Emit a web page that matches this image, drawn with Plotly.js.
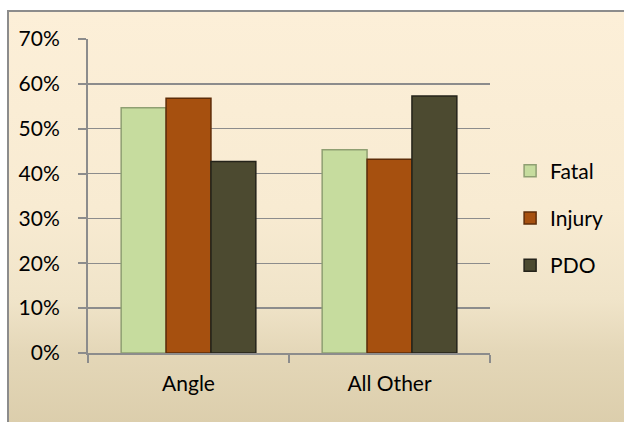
<!DOCTYPE html>
<html>
<head>
<meta charset="utf-8">
<script src="https://cdn.plot.ly/plotly-3.0.1.min.js"></script>
<style>
  html, body { margin: 0; padding: 0; background: #ffffff; }
  #wrap { position: relative; width: 624px; height: 422px; overflow: hidden; background: #ffffff; }
  #frame { position: absolute; left: 7px; top: 10px; width: 640px; height: 440px;
           border: 2px solid #8c8c8c; box-sizing: border-box;
           background: linear-gradient(to bottom, #fcefd8 0%, #f8ebd2 45%, #f0e4c9 66%, #e4d7b8 78%, #d9cba8 100%); }
  #chart { position: absolute; left: 0; top: 0; width: 624px; height: 422px; }
</style>
</head>
<body>
<div id="wrap">
  <div id="frame"></div>
  <div id="chart"></div>
</div>
<script>
const categories = ["Angle", "All Other"];
const fatal = [54.7, 45.3];
const injury = [56.8, 43.2];
const pdo = [42.7, 57.3];
const seriesNames = ["Fatal", "Injury", "PDO"];
const yTicks = [0, 10, 20, 30, 40, 50, 60, 70];

const seriesValues = [fatal, injury, pdo];
const fills = ["#c6dc9e", "#a6500f", "#4c4a30"];
const edges = ["#8f9f72", "#5e2c08", "#24231a"];

const traces = seriesValues.map((vals, i) => ({
  type: "bar",
  name: seriesNames[i],
  x: categories,
  y: vals,
  legendgroup: "g" + i,
  marker: { color: fills[i], line: { color: edges[i], width: 1.5 } },
  hoverinfo: "skip"
}));

const fontFam = "Lato, 'Open Sans', sans-serif";
const layout = {
  width: 624,
  height: 422,
  paper_bgcolor: "rgba(0,0,0,0)",
  plot_bgcolor: "rgba(0,0,0,0)",
  margin: { l: 88, r: 134, t: 39, b: 69 },
  barmode: "group",
  bargap: 0.33,
  bargroupgap: 0,
  font: { family: fontFam, size: 21, color: "#000000" },
  showlegend: true,
  legend: {
    x: 1.05, xanchor: "left", y: 0.43, yanchor: "middle",
    bgcolor: "rgba(0,0,0,0)",
    traceorder: "grouped",
    tracegroupgap: 17,
    font: { family: fontFam, size: 21, color: "#000000" }
  },
  xaxis: {
    type: "category",
    showgrid: false,
    showline: true, linecolor: "#8c8c8c", linewidth: 2,
    ticks: "outside", ticklen: 8, tickcolor: "#8c8c8c", tickwidth: 2,
    tickson: "boundaries",
    ticklabelstandoff: 11,
    tickfont: { family: fontFam, size: 21, color: "#000000" },
    fixedrange: true
  },
  yaxis: {
    range: [0, 70],
    tickvals: yTicks,
    ticktext: yTicks.map(v => v + "%"),
    showgrid: true, gridcolor: "#8c8c8c", gridwidth: 1.5,
    showline: true, linecolor: "#8c8c8c", linewidth: 2,
    ticks: "outside", ticklen: 8, tickcolor: "#8c8c8c", tickwidth: 2,
    zeroline: false,
    ticklabelstandoff: 14,
    tickfont: { family: fontFam, size: 21, color: "#000000" },
    fixedrange: true
  }
};

Plotly.newPlot("chart", traces, layout, { displayModeBar: false, staticPlot: true });
</script>
</body>
</html>
